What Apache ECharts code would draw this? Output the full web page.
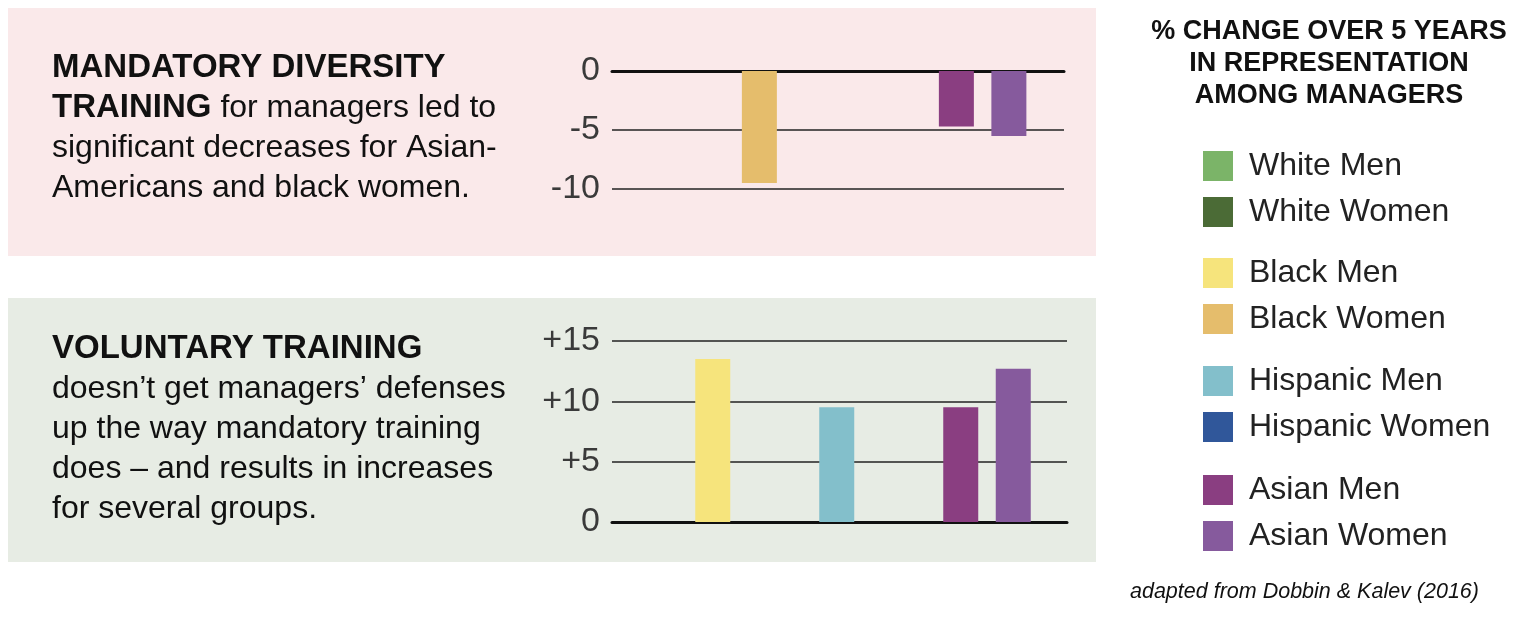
<!DOCTYPE html>
<html>
<head>
<meta charset="utf-8">
<script src="https://cdn.jsdelivr.net/npm/echarts/dist/echarts.min.js"></script>
<style>
  html, body { margin: 0; padding: 0; background: #fff; }
  #chart { width: 1536px; height: 629px; }
</style>
</head>
<body>
<div id="chart"></div>
<script>
// groups along the x axis, each has a men bar and a women bar
const groups = ['White', 'Black', 'Hispanic', 'Asian'];
const genders = ['Men', 'Women'];

// % change over 5 years (null = no significant change, no bar)
const mandatoryMen = [null, null, null, -4.7];
const mandatoryWomen = [null, -9.5, null, -5.5];
const voluntaryMen = [null, 13.5, 9.5, 9.5];
const voluntaryWomen = [null, null, null, 12.7];

const mandatoryTicks = [-10, 0];
const voluntaryTicks = [0, 15];

const colors = {
    'White Men': '#7bb468',
    'White Women': '#4b6b36',
    'Black Men': '#f6e47c',
    'Black Women': '#e5bd6c',
    'Hispanic Men': '#83bfcb',
    'Hispanic Women': '#30579a',
    'Asian Men': '#8a3e81',
    'Asian Women': '#865a9d'
};

const font = 'Liberation Sans, Arial, Helvetica, sans-serif';

let myChart = echarts.init(document.getElementById('chart'));

// one series per group+gender so the legend can show all 8 names
function makeSeries(men, women, axisIndex){
    let out = [];
    groups.forEach((g, gi) => {
        genders.forEach(gender => {
            const vals = gender === 'Men' ? men : women;
            const name = g + ' ' + gender;
            out.push({
                name: name,
                type: 'bar',
                xAxisIndex: axisIndex,
                yAxisIndex: axisIndex,
                stack: 'c' + axisIndex + gender,
                barWidth: 35,
                barGap: '50%',
                itemStyle: {color: colors[name]},
                emphasis: {disabled: true},
                data: groups.map((_, i) => i === gi ? vals[i] : null)
            });
        });
    });
    return out;
}

function lineAxisY(ticks, grid, fmt){
    return {
        type: 'value', gridIndex: grid,
        min: ticks[0], max: ticks[1], interval: 5,
        axisLine: {show: false}, axisTick: {show: false},
        splitLine: {lineStyle: {color: '#222', width: 1.5}},
        axisLabel: {fontSize: 34, color: '#3a3a3a', fontFamily: font, margin: 12, formatter: fmt}
    };
}

function barAxisY(ticks, grid){
    return {
        type: 'value', gridIndex: grid,
        min: ticks[0], max: ticks[1], interval: 5,
        show: false
    };
}

function legendGroup(names, top){
    return {
        orient: 'vertical',
        left: 1203, top: top,
        padding: 0,
        itemWidth: 30, itemHeight: 30, itemGap: 14,
        icon: 'rect',
        selectedMode: false,
        data: names,
        textStyle: {fontSize: 32, color: '#222', fontFamily: font, lineHeight: 30, padding: [0, 0, 0, 11]}
    };
}

let option = {
    animation: false,
    grid: [
        // grid lines of mandatory panel, then its bars
        {left: 612, top: 71, width: 452, height: 118},
        {left: 546, top: 71, width: 499, height: 118},
        // voluntary panel
        {left: 612, top: 341, width: 455, height: 181},
        {left: 553, top: 341, width: 496, height: 181}
    ],
    xAxis: [
        {type: 'category', gridIndex: 0, data: groups,
         axisLine: {lineStyle: {color: '#111', width: 3}}, axisTick: {show: false}, axisLabel: {show: false}},
        {type: 'category', gridIndex: 1, data: groups, show: false},
        {type: 'category', gridIndex: 2, data: groups,
         axisLine: {lineStyle: {color: '#111', width: 3}}, axisTick: {show: false}, axisLabel: {show: false}},
        {type: 'category', gridIndex: 3, data: groups, show: false}
    ],
    yAxis: [
        lineAxisY(mandatoryTicks, 0, v => String(v)),
        barAxisY(mandatoryTicks, 1),
        lineAxisY(voluntaryTicks, 2, v => v > 0 ? '+' + v : String(v)),
        barAxisY(voluntaryTicks, 3)
    ],
    legend: [
        legendGroup(['White Men', 'White Women'], 150),
        legendGroup(['Black Men', 'Black Women'], 257),
        legendGroup(['Hispanic Men', 'Hispanic Women'], 365),
        legendGroup(['Asian Men', 'Asian Women'], 474)
    ],
    graphic: [
        {type: 'rect', z: -10, shape: {x: 8, y: 8, width: 1088, height: 248}, style: {fill: '#fae9ea'}},
        {type: 'rect', z: -10, shape: {x: 8, y: 298, width: 1088, height: 264}, style: {fill: '#e7ece4'}},
        {
            type: 'text', left: 52, top: 48,
            style: {
                text: '{b|MANDATORY DIVERSITY}\n{b|TRAINING} for managers led to\nsignificant decreases for Asian-\nAmericans and black women.',
                fontSize: 32, fontFamily: font, fill: '#111', lineHeight: 40,
                rich: {b: {fontWeight: 'bold', fontSize: 33, fontFamily: font, lineHeight: 40}}
            }
        },
        {
            type: 'text', left: 52, top: 329,
            style: {
                text: '{b|VOLUNTARY TRAINING}\ndoesn\u2019t get managers\u2019 defenses\nup the way mandatory training\ndoes \u2013 and results in increases\nfor several groups.',
                fontSize: 32, fontFamily: font, fill: '#111', lineHeight: 40,
                rich: {b: {fontWeight: 'bold', fontSize: 33, fontFamily: font, lineHeight: 40}}
            }
        },
        {
            type: 'text', x: 1329, y: 16,
            style: {
                text: '% CHANGE OVER 5 YEARS\nIN REPRESENTATION\nAMONG MANAGERS',
                fontSize: 27, fontWeight: 'bold', fontFamily: font, fill: '#111',
                lineHeight: 32, align: 'center'
            }
        },
        {
            type: 'text', x: 1130, y: 581,
            style: {
                text: 'adapted from Dobbin & Kalev (2016)',
                fontSize: 21.5, fontStyle: 'italic', fontFamily: font, fill: '#111'
            }
        }
    ],
    series: makeSeries(mandatoryMen, mandatoryWomen, 1).concat(makeSeries(voluntaryMen, voluntaryWomen, 3))
};

myChart.setOption(option);
</script>
</body>
</html>
